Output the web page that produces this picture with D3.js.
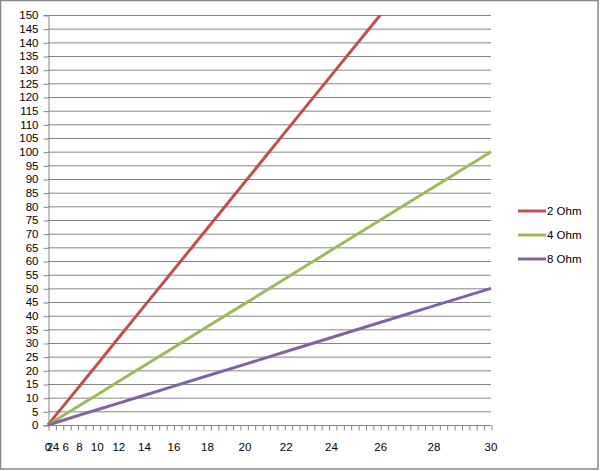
<!DOCTYPE html>
<html><head><meta charset="utf-8">
<script src="https://cdn.jsdelivr.net/npm/d3@7"></script>
<style>body{margin:0;background:#fff}svg{display:block}text{font-family:"Liberation Sans",Arial,sans-serif;font-size:11.5px;fill:#000}</style>
</head><body>
<script>
const xLabels = [0,2,4,6,8,10,12,14,16,18,20,22,24,26,28,30];
const yTicks = d3.range(0,151,5);
const seriesNames = ["2 Ohm","4 Ohm","8 Ohm"];
const seriesColors = ["#C0504D","#9BBB59","#8064A2"];
const ohm2 = [0,0.9,3.6,8,14.2,22.2,32,43.6,56.9,72,88.9,107.6,128,150.2,174.2,200];
const ohm4 = [0,0.4,1.8,4,7.1,11.1,16,21.8,28.4,36,44.4,53.8,64,75.1,87.1,100];
const ohm8 = [0,0.2,0.9,2,3.6,5.6,8,10.9,14.2,18,22.2,26.9,32,37.6,43.6,50];
const series = [ohm2, ohm4, ohm8];
const minorTickCount = 60;

const W=600,H=471;
const L=48,R=491,T=15,B=425;
const svg=d3.select("body").append("svg").attr("width",W).attr("height",H);
svg.append("rect").attr("x",0.5).attr("y",0.5).attr("width",597.5).attr("height",468.5)
  .attr("fill","#fff").attr("stroke","#868686").attr("stroke-width",1.5);

const x=d3.scalePow().exponent(2).domain([0,30]).range([L,R]);
const xm=d3.scaleLinear().domain([0,minorTickCount]).range([L,R]);
const y=d3.scaleLinear().domain([0,150]).range([B,T]);

// gridlines
svg.append("g").selectAll("line").data(yTicks.filter(d=>d>0)).join("line")
  .attr("x1",L).attr("x2",R).attr("y1",d=>y(d)+0.5).attr("y2",d=>y(d)+0.5)
  .attr("stroke","#868686").attr("stroke-width",1);

// y axis
const ya=svg.append("g").attr("transform",`translate(${L+0.5},0)`)
  .call(d3.axisLeft(y).tickValues(yTicks).tickSize(5).tickPadding(5));
ya.select(".domain").attr("stroke","#868686");
ya.selectAll(".tick line").attr("stroke","#868686").attr("transform","translate(0,0.5)");
ya.selectAll("text").attr("font-family",null).attr("font-size",null).attr("fill","#000");

// x axis line + minor ticks
const xa=svg.append("g").attr("transform",`translate(0,${B+0.5})`)
  .call(d3.axisBottom(xm).ticks(minorTickCount).tickValues(d3.range(0,minorTickCount+1)).tickSize(5).tickFormat(""));
xa.select(".domain").attr("stroke","#868686").attr("d",`M${L},0H${R}`);
xa.selectAll(".tick line").attr("stroke","#868686").attr("transform","translate(0.5,0)");

// x labels
svg.append("g").selectAll("text").data(xLabels).join("text")
  .attr("x",d=>x(d)).attr("y",451).attr("text-anchor","middle").text(d=>d);

// clip
svg.append("clipPath").attr("id","plot").append("rect")
  .attr("x",L-2).attr("y",T).attr("width",R-L+6).attr("height",B-T+3);

const line=d3.line().x((d,i)=>x(xLabels[i])).y(d=>y(d));
svg.append("g").attr("clip-path","url(#plot)").selectAll("path").data(series).join("path")
  .attr("d",line).attr("fill","none").attr("stroke",(d,i)=>seriesColors[i])
  .attr("stroke-width",3).attr("stroke-linejoin","round");

// legend
const lg=svg.append("g").selectAll("g").data(seriesNames).join("g")
  .attr("transform",(d,i)=>`translate(518,${211+i*24})`);
lg.append("line").attr("x1",0).attr("x2",28).attr("stroke",(d,i)=>seriesColors[i]).attr("stroke-width",3);
lg.append("text").attr("x",29).attr("y",4).text(d=>d);
</script>
</body></html>
